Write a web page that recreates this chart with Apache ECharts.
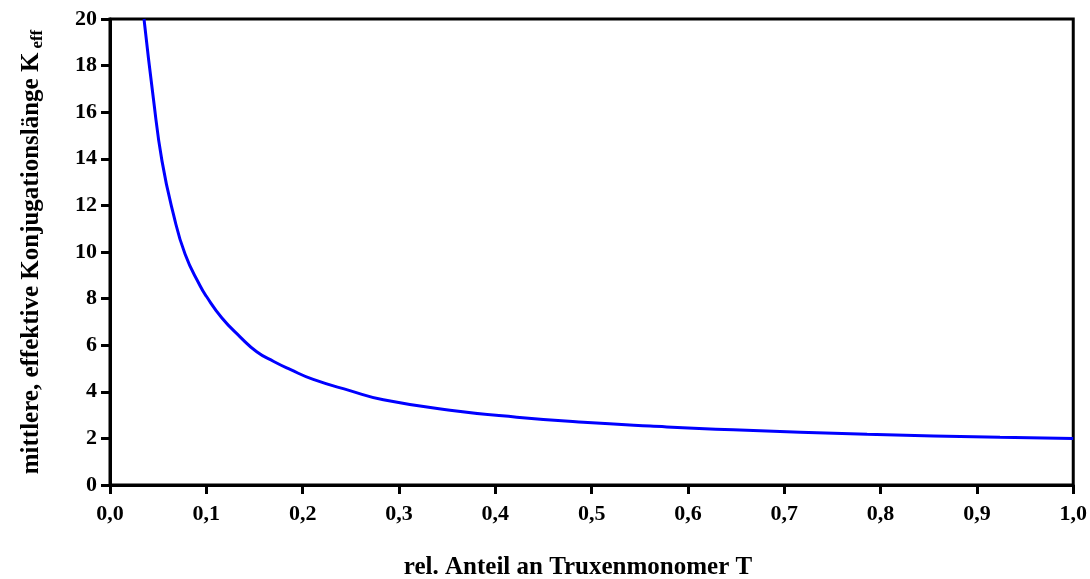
<!DOCTYPE html>
<html>
<head>
<meta charset="utf-8">
<script src="https://cdn.jsdelivr.net/npm/echarts@6/dist/echarts.min.js"></script>
<style>
  html, body { margin: 0; padding: 0; background: #fff; }
  #chart { width: 1090px; height: 579px; }
</style>
</head>
<body>
<div id="chart"></div>
<script>
// relative share of truxene monomer T
const shareT = [0.0353, 0.045, 0.054, 0.0657, 0.078, 0.0935, 0.1, 0.116, 0.135, 0.1523,
  0.17, 0.187, 0.211, 0.249, 0.2838, 0.353, 0.4223, 0.4915, 0.5607, 0.647, 0.786, 0.924, 1.0];
// mean effective conjugation length K_eff
const kEff = [20, 16.6, 13.9, 11.65, 9.9, 8.55, 8.1, 7.18, 6.36, 5.72,
  5.3, 4.96, 4.53, 4.05, 3.66, 3.21, 2.91, 2.69, 2.53, 2.37, 2.18, 2.05, 2.0];

const xTitle = 'rel. Anteil an Truxenmonomer T';
const yTitle = 'mittlere, effektive Konjugationslänge K';
const ySub = 'eff';

const font = '"Liberation Serif", "Times New Roman", serif';

const chart = echarts.init(document.getElementById('chart'));
chart.setOption({
  animation: false,
  backgroundColor: '#fff',
  grid: {
    left: 110, right: 16, top: 19, bottom: 94,
    show: true, borderColor: '#000', borderWidth: 3, backgroundColor: 'transparent'
  },
  xAxis: {
    type: 'value', min: 0, max: 1, interval: 0.1,
    axisLine: { show: true, lineStyle: { color: '#000', width: 3 } },
    axisTick: { show: true, length: 9, lineStyle: { color: '#000', width: 3 } },
    splitLine: { show: false },
    axisLabel: {
      color: '#000', fontFamily: font, fontWeight: 'bold', fontSize: 22, margin: 18,
      formatter: v => v.toFixed(1).replace('.', ',')
    }
  },
  yAxis: {
    type: 'value', min: 0, max: 20, interval: 2,
    axisLine: { show: true, lineStyle: { color: '#000', width: 3 } },
    axisTick: { show: true, length: 9, lineStyle: { color: '#000', width: 3 } },
    splitLine: { show: false },
    axisLabel: { color: '#000', fontFamily: font, fontWeight: 'bold', fontSize: 22, margin: 13 }
  },
  graphic: [
    {
      type: 'text', x: 578, y: 568,
      style: {
        text: xTitle, fill: '#000', font: 'bold 25px ' + font,
        align: 'center', verticalAlign: 'middle'
      }
    },
    {
      type: 'text', x: 32, y: 252, rotation: Math.PI / 2,
      style: {
        text: '{m|' + yTitle + '}{s|' + ySub + '}',
        align: 'center', verticalAlign: 'middle',
        rich: {
          m: { fill: '#000', fontFamily: font, fontWeight: 'bold', fontSize: 25, lineHeight: 30 },
          s: { fill: '#000', fontFamily: font, fontWeight: 'bold', fontSize: 17, padding: [12, 0, 0, 4], lineHeight: 30 }
        }
      }
    }
  ],
  series: [{
    type: 'line',
    data: shareT.map((t, i) => [t, kEff[i]]),
    smooth: 0.5,
    showSymbol: false,
    lineStyle: { color: '#0000ff', width: 3 },
    clip: true
  }]
});
</script>
</body>
</html>
